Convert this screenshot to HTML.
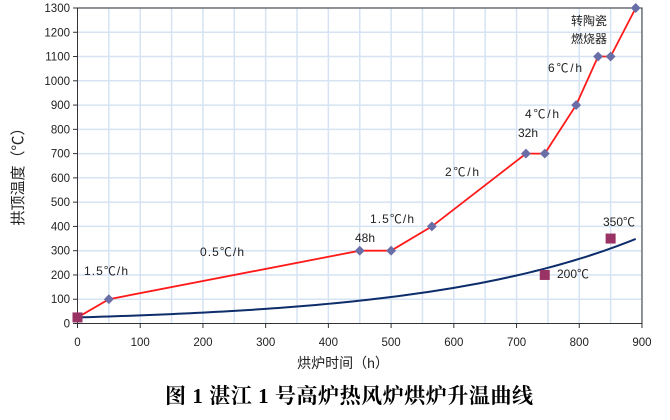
<!DOCTYPE html>
<html><head><meta charset="utf-8"><style>
body{margin:0;background:#fff;width:670px;height:415px;overflow:hidden}
svg text{font-family:"Liberation Sans","Noto Sans CJK SC",sans-serif}
</style></head><body>
<svg id="s" width="670" height="415" xmlns="http://www.w3.org/2000/svg"></svg>
<script>
const s=document.getElementById('s');
const X=h=>77.5+h*0.6272, Y=t=>323.5-t*0.2427;
let o='';
for(let h=50;h<=900;h+=50)o+=`<line x1="${X(h)}" y1="8" x2="${X(h)}" y2="323.5" stroke="#d6e3f3" stroke-width="1.5"/>`;
for(let t=100;t<=1300;t+=100)o+=`<line x1="77.5" y1="${Y(t)}" x2="${X(900)}" y2="${Y(t)}" stroke="#d6e3f3" stroke-width="1.5"/>`;
o+=`<rect x="77.5" y="${Y(1300)}" width="${X(900)-77.5}" height="${Y(0)-Y(1300)}" fill="none" stroke="#333" stroke-width="1"/>`;
for(let t=0;t<=1300;t+=100){o+=`<line x1="73" y1="${Y(t)}" x2="77.5" y2="${Y(t)}" stroke="#333"/><text x="70" y="${Y(t)+4}" font-size="11.5" text-anchor="end" fill="#222">${t}</text>`;}
for(let h=0;h<=900;h+=100){o+=`<line x1="${X(h)}" y1="323.5" x2="${X(h)}" y2="328" stroke="#333"/><text x="${X(h)}" y="346" font-size="11.5" text-anchor="middle" fill="#222">${h}</text>`;}
let bp=[];for(let h=0;h<=890;h+=10){let t=25+24.4*(Math.exp(h/335)-1);bp.push(X(h)+','+Y(t));}
o+=`<polyline points="${bp.join(' ')}" fill="none" stroke="#0d2d6b" stroke-width="2"/>`;
const r=[[0,25],[50,100],[450,300],[500,300],[565,400],[715,700],[745,700],[795,900],[830,1100],[850,1100],[890,1300]];
o+=`<polyline points="${r.map(p=>X(p[0])+','+Y(p[1])).join(' ')}" fill="none" stroke="#ff1a1a" stroke-width="1.8"/>`;
r.slice(1).forEach(p=>{o+=`<rect x="${X(p[0])-3.5}" y="${Y(p[1])-3.5}" width="7" height="7" fill="#6a6ea6" transform="rotate(45 ${X(p[0])} ${Y(p[1])})"/>`;});
[[0,25],[745,200],[850,350]].forEach(p=>{o+=`<rect x="${X(p[0])-5}" y="${Y(p[1])-5}" width="10" height="10" fill="#993366"/>`;});
const L=[[84,275,'1.5℃/h',44],[200,256,'0.5℃/h',44],[355,242,'48h'],[370,223,'1.5℃/h',44],[445,176,'2℃/h',34],[518,137,'32h'],[525,118,'4℃/h',34],[548,72,'6℃/h',34],[571,25,'转陶瓷'],[571,43,'燃烧器'],[603,226,'350℃'],[557,278,'200℃']];
L.forEach(l=>{o+=`<text x="${l[0]}" y="${l[1]}" font-size="12" fill="#222"${l[3]?` textLength="${l[3]}" lengthAdjust="spacing"`:''}>${l[2]}</text>`;});
o+=`<text transform="translate(23,173) rotate(-90)" font-size="15" text-anchor="middle" fill="#222">拱顶温度（℃）</text>`;
o+=`<text x="343" y="368" font-size="14" text-anchor="middle" fill="#222">烘炉时间（h）</text>`;
o+=`<text x="165" y="403" font-size="21" font-weight="bold" fill="#000" textLength="368" lengthAdjust="spacing" style="font-family:'Liberation Serif','Noto Serif CJK SC',serif">图 1 湛江 1 号高炉热风炉烘炉升温曲线</text>`;
s.innerHTML=o;
</script>
</body></html>
